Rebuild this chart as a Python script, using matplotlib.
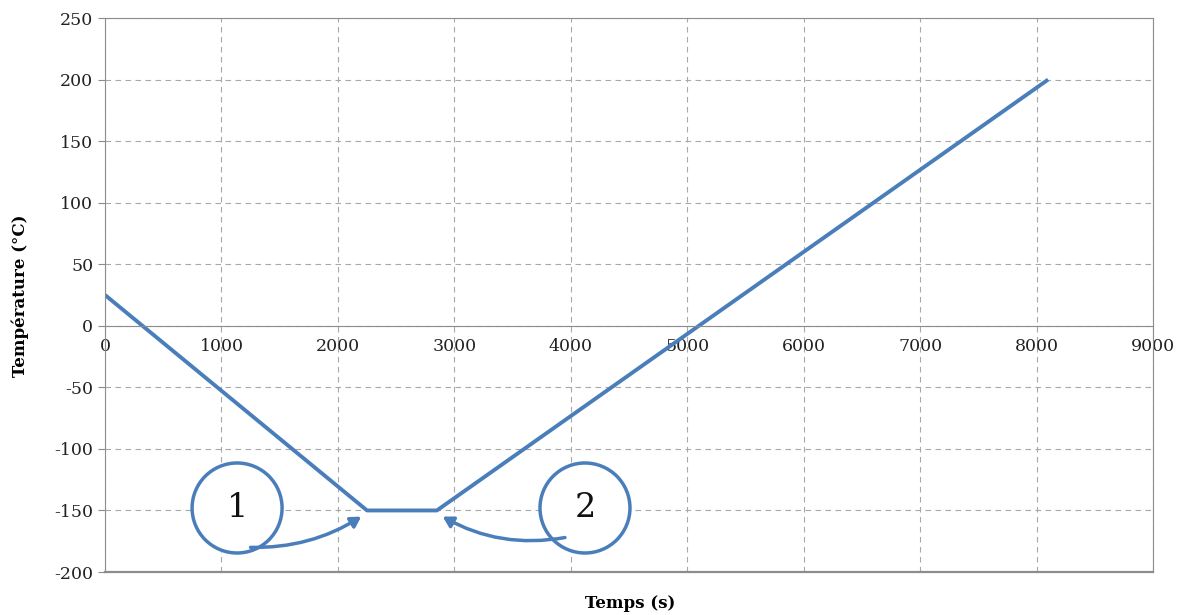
import matplotlib
matplotlib.use("Agg")
import matplotlib.pyplot as plt
from matplotlib.patches import Ellipse

time_s = [0, 2250, 2850, 8100]
temp_c = [25, -150, -150, 200]
x_ticks = [0, 1000, 2000, 3000, 4000, 5000, 6000, 7000, 8000, 9000]
y_ticks = [-200, -150, -100, -50, 0, 50, 100, 150, 200, 250]
labels = ["1", "2"]
label_pos = [(1134, -148), (4122, -148)]
arrow_targets = [(2200, -155), (2900, -155)]
arrow_starts = [(1250, -180), (3950, -172)]

plt.rcParams['font.family'] = ['DejaVu Serif']
plt.rcParams['axes.unicode_minus'] = False
fig = plt.figure(figsize=(11.87, 6.15), dpi=100)
ax = fig.add_axes([0.0885, 0.0699, 0.9713 - 0.0885, 0.9707 - 0.0699])
ax.set_xlim(0, 9000)
ax.set_ylim(-200, 250)
ax.set_xticks(x_ticks)
ax.set_yticks(y_ticks)
ax.grid(True, color='#a8a8a8', linestyle=(0, (5, 4)), linewidth=0.8)
ax.set_axisbelow(True)
for s in ['left', 'right', 'top']:
    ax.spines[s].set_color('#8c8c8c')
ax.spines['bottom'].set_position(('data', 0))
ax.spines['bottom'].set_color('#8c8c8c')
ax.axhline(-200, color='#8c8c8c', linewidth=1.6, clip_on=False)
ax.tick_params(axis='both', colors='#8c8c8c', labelcolor='#222222', labelsize=12.5, length=5, direction='out')
ax.tick_params(axis='x', pad=9, length=0)

ax.plot(time_s, temp_c, color='#4a7ebb', linewidth=2.8, solid_capstyle='butt')

w = 90 / (1048 / 9000)
h = 90 / (554 / 450)
for lab, (cx, cy) in zip(labels, label_pos):
    ax.add_patch(Ellipse((cx, cy), w, h, facecolor='white', edgecolor='#4a7ebb', linewidth=2.5, zorder=3))
    ax.text(cx, cy, lab, ha='center', va='center', fontsize=24, color='#111111', zorder=4)
rads = [0.15, -0.18]
for st, tg, r in zip(arrow_starts, arrow_targets, rads):
    ax.annotate('', xy=tg, xytext=st,
                arrowprops=dict(arrowstyle='-|>,head_length=0.6,head_width=0.35', color='#4a7ebb', lw=2.5,
                                connectionstyle=f'arc3,rad={r}', shrinkA=0, shrinkB=0), zorder=5)

fig.text(0.531, 0.018, 'Temps (s)', ha='center', va='center', fontsize=12, fontweight='bold')
fig.text(0.017, 0.519, 'Température (°C)', ha='center', va='center', rotation=90, fontsize=12, fontweight='bold')

fig.savefig('out.png', dpi=100)
